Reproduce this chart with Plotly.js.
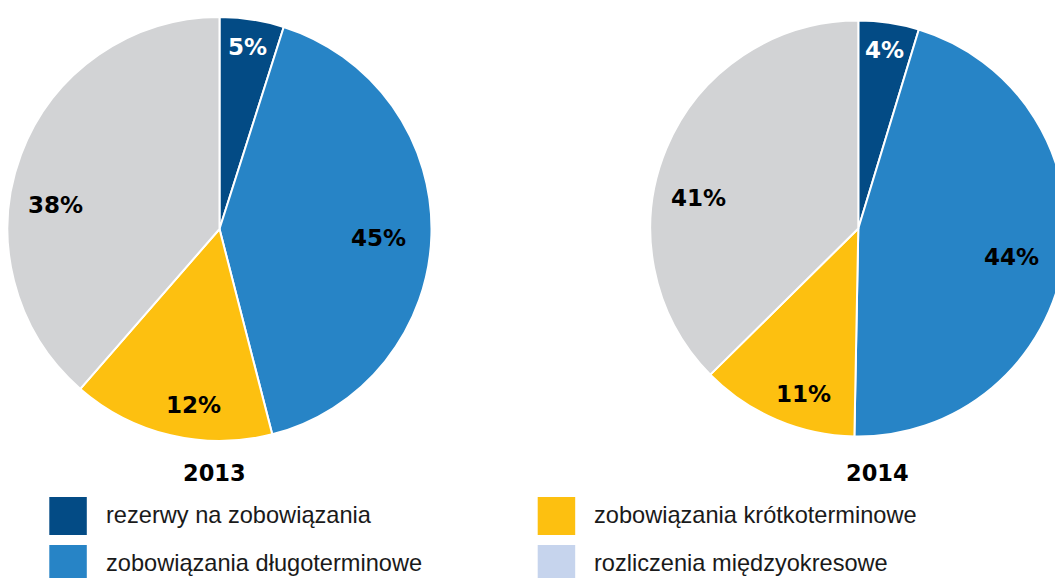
<!DOCTYPE html>
<html>
<head>
<meta charset="utf-8">
<script src="https://cdn.plot.ly/plotly-3.0.1.min.js"></script>
<style>
html,body{margin:0;padding:0;overflow:hidden;background:#fff;}
#chart{width:1075px;height:578px;}
</style>
</head>
<body>
<div id="chart"></div>
<script>
// ---- data ----
const sliceNames = ["rezerwy na zobowiązania", "zobowiązania długoterminowe", "zobowiązania krótkoterminowe", "kapitał własny"];
const sliceColors = ["#034b85", "#2784c6", "#fdc010", "#d2d3d5"];
const values2013 = [4.9, 41.1, 15.4, 38.6];   // slice sizes as drawn
const values2014 = [4.7, 45.6, 12.3, 37.4];
const labels2013 = ["5%", "45%", "12%", "38%"]; // printed percentages
const labels2014 = ["4%", "44%", "11%", "41%"];
const years = ["2013", "2014"];
const legendNames = ["rezerwy na zobowiązania", "zobowiązania krótkoterminowe", "zobowiązania długoterminowe", "rozliczenia międzyokresowe"];
const legendColors = ["#034b85", "#fdc010", "#2784c6", "#c6d4ed"];

// ---- style / placement ----
const W = 1075, H = 578;
const px = x => x / W;
const py = y => 1 - y / H;
const textColors = ["#ffffff", "#000000", "#000000", "#000000"];
const labelRadius = [0.87, 0.75, 0.84, 0.78];     // label distance as share of radius
const labelAngleShift = [0, 1.5, -5, -12];        // degrees relative to slice middle
const pies = [
  {vals: values2013, txt: labels2013, cx: 219.5, cy: 229, r: 212, yearX: 214},
  {vals: values2014, txt: labels2014, cx: 858.3, cy: 228.5, r: 208, yearX: 877.5}
];

const traces = [];
const annotations = [];
const shapes = [];
const pctFont = {family: "DejaVu Sans", size: 23, weight: "bold"};

pies.forEach((p, k) => {
  traces.push({
    type: "pie",
    labels: sliceNames,
    values: p.vals,
    textinfo: "none",
    marker: {colors: sliceColors, line: {color: "#ffffff", width: 2}},
    sort: false,
    direction: "clockwise",
    rotation: 0,
    showlegend: false,
    hoverinfo: "label+percent",
    domain: {x: [px(p.cx - p.r), px(p.cx + p.r)], y: [py(p.cy + p.r), py(p.cy - p.r)]}
  });
  const total = p.vals.reduce((a, b) => a + b, 0);
  let cum = 0;
  p.vals.forEach((v, i) => {
    const mid = (cum + v / 2) / total * 360 + labelAngleShift[i];
    cum += v;
    const a = mid * Math.PI / 180;
    const d = p.r * labelRadius[i];
    annotations.push({
      text: p.txt[i], xref: "paper", yref: "paper",
      x: px(p.cx + d * Math.sin(a)), y: py(p.cy - d * Math.cos(a)),
      xanchor: "center", yanchor: "middle", showarrow: false,
      font: Object.assign({color: textColors[i]}, pctFont)
    });
  });
  annotations.push({
    text: years[k], x: px(p.yearX), y: py(473), xref: "paper", yref: "paper",
    xanchor: "center", yanchor: "middle", showarrow: false,
    font: {family: "DejaVu Sans", size: 22.5, weight: "bold", color: "#000"}
  });
});

const colX = [49.3, 537.7];
const rowY = [497, 545];
legendNames.forEach((name, i) => {
  const c = i % 2, r = Math.floor(i / 2);
  shapes.push({
    type: "rect", xref: "paper", yref: "paper",
    x0: px(colX[c]), x1: px(colX[c] + 37.5), y0: py(rowY[r] + 38), y1: py(rowY[r]),
    fillcolor: legendColors[i], line: {width: 0}
  });
  annotations.push({
    text: name, x: px(colX[c] + 54.5), y: py(rowY[r] + 18), xref: "paper", yref: "paper",
    xanchor: "left", yanchor: "middle", showarrow: false,
    font: {family: "Liberation Sans, Arial", size: 23.6, color: "#1a1a1a"}
  });
});

const layout = {
  width: W, height: H,
  margin: {l: 0, r: 0, t: 0, b: 0},
  paper_bgcolor: "#ffffff",
  showlegend: false,
  annotations: annotations,
  shapes: shapes
};

Plotly.newPlot("chart", traces, layout, {displayModeBar: false, staticPlot: true});
</script>
</body>
</html>
